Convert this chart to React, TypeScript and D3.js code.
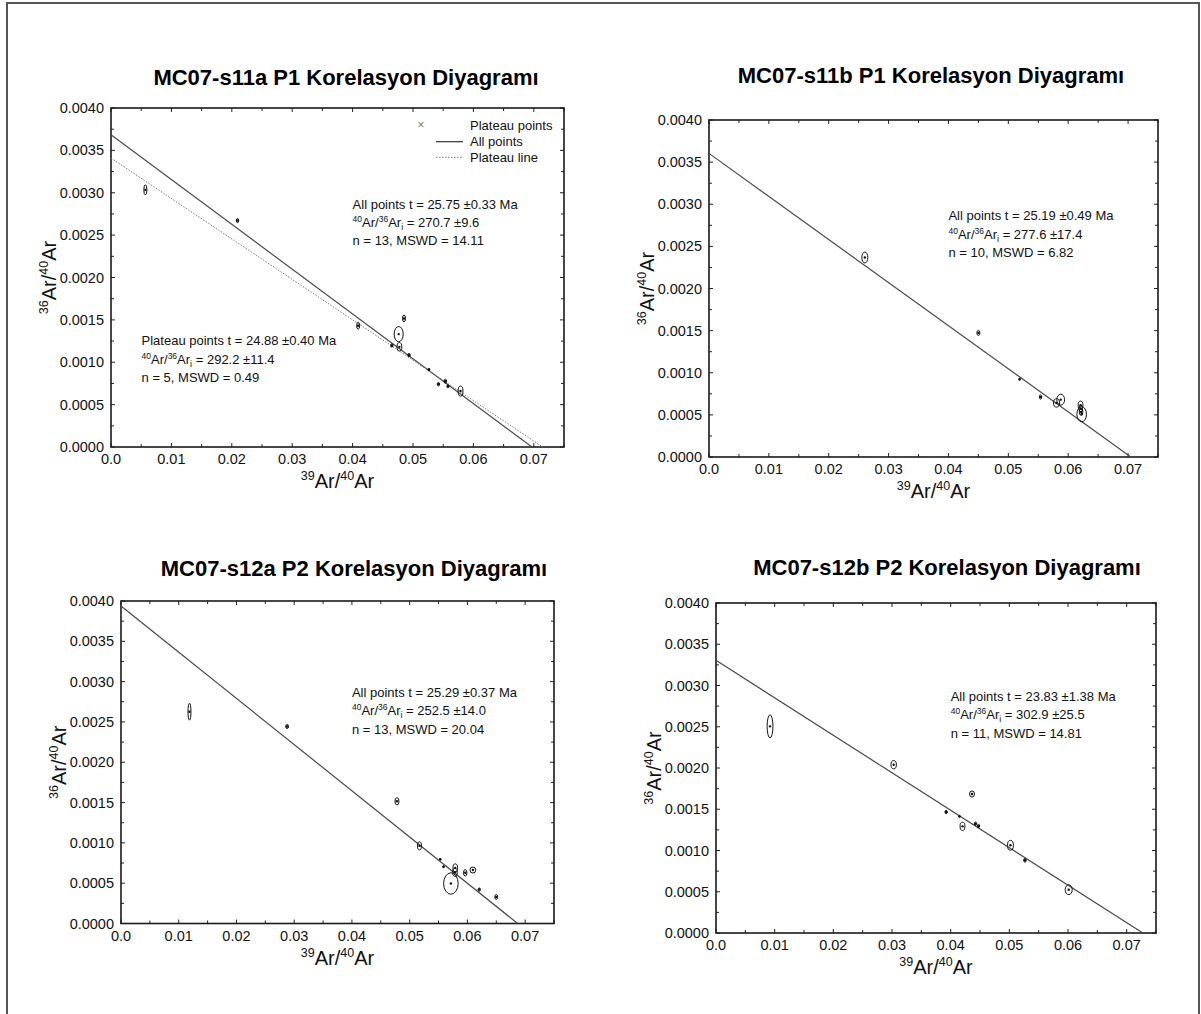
import React from "react";
import * as d3 from "d3";

const W = 1201;
const H = 1014;
const FONT = "'Liberation Sans', Arial, Helvetica, sans-serif";

// axis ticks, same for every panel
const xTicks = [0, 0.01, 0.02, 0.03, 0.04, 0.05, 0.06, 0.07];
const xTickLabels = ["0.0", "0.01", "0.02", "0.03", "0.04", "0.05", "0.06", "0.07"];
const yTicks = [0, 0.0005, 0.001, 0.0015, 0.002, 0.0025, 0.003, 0.0035, 0.004];
const yTickLabels = ["0.0000", "0.0005", "0.0010", "0.0015", "0.0020", "0.0025", "0.0030", "0.0035", "0.0040"];

const titles = [
  "MC07-s11a P1 Korelasyon Diyagramı",
  "MC07-s11b P1 Korelasyon Diyagramı",
  "MC07-s12a P2 Korelasyon Diyagramı",
  "MC07-s12b P2 Korelasyon Diyagramı",
];

// 39Ar/40Ar, 36Ar/40Ar and the 1-sigma half widths of the error ellipses
const s11aX = [0.00569, 0.02094, 0.04092, 0.04851, 0.04763, 0.04649, 0.04775, 0.04934, 0.05263, 0.05421, 0.05535, 0.05579, 0.05787];
const s11aY = [0.003034, 0.002672, 0.001431, 0.001517, 0.001332, 0.001198, 0.001182, 0.001084, 0.000914, 0.000741, 0.000776, 0.000717, 0.00066];
const s11aSx = [0.00025, 0.0002, 0.00025, 0.00025, 0.00075, 0.0002, 0.0004, 0.0002, 0.00015, 0.0002, 0.0002, 0.00015, 0.0004];
const s11aSy = [0.00006, 0.000025, 0.00004, 0.00004, 0.00009, 0.00002, 0.00005, 0.00002, 0.000015, 0.00002, 0.000025, 0.00002, 0.00006];

const s11bX = [0.02603, 0.045, 0.05188, 0.05538, 0.05805, 0.05875, 0.06206, 0.0621, 0.06215, 0.06225];
const s11bY = [0.002368, 0.001473, 0.000923, 0.000713, 0.000642, 0.000681, 0.000614, 0.000574, 0.000535, 0.000507];
const s11bSx = [0.0005, 0.00025, 0.00012, 0.0002, 0.0005, 0.00065, 0.0004, 0.0003, 0.0003, 0.0008];
const s11bSy = [0.000065, 0.00003, 0.000012, 0.000025, 0.00005, 0.000065, 0.00005, 0.00004, 0.00004, 0.00009];

const s12aX = [0.01186, 0.02877, 0.0478, 0.0517, 0.05529, 0.05586, 0.05714, 0.05785, 0.0579, 0.05962, 0.06095, 0.06205, 0.065];
const s12aY = [0.002627, 0.002443, 0.001516, 0.000963, 0.000796, 0.000704, 0.000496, 0.000635, 0.00069, 0.000629, 0.000663, 0.000421, 0.000329];
const s12aSx = [0.00026, 0.00025, 0.00035, 0.00035, 0.00012, 0.00012, 0.00126, 0.0004, 0.0004, 0.0003, 0.0005, 0.0002, 0.00025];
const s12aSy = [0.000105, 0.000025, 0.000045, 0.00005, 0.000012, 0.000012, 0.000133, 0.00005, 0.00005, 0.00004, 0.000037, 0.00002, 0.00003];

const s12bX = [0.00921, 0.03029, 0.03923, 0.0415, 0.04202, 0.04364, 0.04423, 0.04475, 0.05019, 0.05266, 0.06012];
const s12bY = [0.002505, 0.00204, 0.001467, 0.001414, 0.001293, 0.001685, 0.001325, 0.001297, 0.001063, 0.000881, 0.000525];
const s12bSx = [0.0005, 0.00046, 0.0002, 0.00012, 0.00042, 0.00042, 0.0002, 0.0002, 0.0005, 0.00022, 0.0006];
const s12bSy = [0.00014, 0.00005, 0.00002, 0.000012, 0.00005, 0.000037, 0.00002, 0.00002, 0.00006, 0.000022, 0.00006];

// isochron fits: 36Ar/40Ar at x = 0 and 39Ar/40Ar at y = 0
const fitY0 = [0.003684, 0.003604, 0.003939, 0.003305];
const fitX0 = [0.0697, 0.07046, 0.0687, 0.07276];
const plateauY0 = 0.003409;
const plateauX0 = 0.07147;

const ages = ["25.75 \u00b10.33", "25.19 \u00b10.49", "25.29 \u00b10.37", "23.83 \u00b11.38"];
const initialRatios = ["270.7 \u00b19.6", "277.6 \u00b117.4", "252.5 \u00b114.0", "302.9 \u00b125.5"];
const nPoints = [13, 10, 13, 11];
const mswd = ["14.11", "6.82", "20.04", "14.81"];
const plateauAge = "24.88 \u00b10.40";
const plateauRatio = "292.2 \u00b111.4";
const plateauN = 5;
const plateauMswd = "0.49";

// where each panel sits on the page
const layout = [
  { left: 111, right: 564, top: 108, bottom: 447, titleX: 346, titleY: 85 },
  { left: 709, right: 1158, top: 120, bottom: 457, titleX: 931, titleY: 83 },
  { left: 121, right: 554, top: 601, bottom: 923.5, titleX: 354, titleY: 576 },
  { left: 716, right: 1156, top: 603, bottom: 933, titleX: 947, titleY: 575 },
];

const series = [
  { x: s11aX, y: s11aY, sx: s11aSx, sy: s11aSy },
  { x: s11bX, y: s11bY, sx: s11bSx, sy: s11bSy },
  { x: s12aX, y: s12aY, sx: s12aSx, sy: s12aSy },
  { x: s12bX, y: s12bY, sx: s12bSx, sy: s12bSy },
];

const LINE_H = 18.3;

const StatBlock = ({ x, y, label, age, ratio, n, m }) => (
  <g fontSize={13} fill="#111">
    <text x={x} y={y}>{`${label} t = ${age} Ma`}</text>
    <text x={x} y={y + LINE_H}>
      <tspan fontSize={8.5} dy={-5}>40</tspan>
      <tspan dy={5}>Ar/</tspan>
      <tspan fontSize={8.5} dy={-5}>36</tspan>
      <tspan dy={5}>Ar</tspan>
      <tspan fontSize={9} dy={3}>i</tspan>
      <tspan dy={-3}>{` = ${ratio}`}</tspan>
    </text>
    <text x={x} y={y + 2 * LINE_H}>{`n = ${n}, MSWD = ${m}`}</text>
  </g>
);

const Panel = ({ i }) => {
  const L = layout[i];
  const d = series[i];
  const x = d3.scaleLinear().domain([0, 0.075]).range([L.left, L.right]);
  const y = d3.scaleLinear().domain([0, 0.004]).range([L.bottom, L.top]);
  const minorX = d3.range(0, 0.0751, 0.005);
  const minorY = d3.range(0, 0.00401, 0.00025);
  const cx = (L.left + L.right) / 2;
  const cy = (L.top + L.bottom) / 2;

  return (
    <g>
      <text x={L.titleX} y={L.titleY} textAnchor="middle" fontSize={22} fontWeight="bold" fill="#000">
        {titles[i]}
      </text>

      {/* inward ticks on all four sides */}
      {minorX.map((v, k) => (
        <g key={"tx" + k} stroke="#222" strokeWidth={1}>
          <line x1={x(v)} x2={x(v)} y1={L.bottom} y2={L.bottom - (k % 2 ? 3 : 4)} />
          <line x1={x(v)} x2={x(v)} y1={L.top} y2={L.top + (k % 2 ? 3 : 4)} />
        </g>
      ))}
      {minorY.map((v, k) => (
        <g key={"ty" + k} stroke="#222" strokeWidth={1}>
          <line x1={L.left} x2={L.left + (k % 2 ? 3 : 4)} y1={y(v)} y2={y(v)} />
          <line x1={L.right} x2={L.right - (k % 2 ? 3 : 4)} y1={y(v)} y2={y(v)} />
        </g>
      ))}

      <rect x={L.left} y={L.top} width={L.right - L.left} height={L.bottom - L.top}
        fill="none" stroke="#1a1a1a" strokeWidth={1.6} />

      {xTicks.map((v, k) => (
        <text key={"xl" + k} x={x(v)} y={L.bottom + 17} textAnchor="middle" fontSize={14.5} fill="#111">
          {xTickLabels[k]}
        </text>
      ))}
      {yTicks.map((v, k) => (
        <text key={"yl" + k} x={L.left - 7} y={y(v)} dy="0.35em" textAnchor="end" fontSize={14.5} fill="#111">
          {yTickLabels[k]}
        </text>
      ))}

      <text x={cx} y={L.bottom + 41} textAnchor="middle" fontSize={20} fill="#111">
        <tspan fontSize={12.5} dy={-8}>39</tspan>
        <tspan dy={8}>Ar/</tspan>
        <tspan fontSize={12.5} dy={-8}>40</tspan>
        <tspan dy={8}>Ar</tspan>
      </text>
      <text transform={`translate(${L.left - 55},${cy}) rotate(-90)`} textAnchor="middle" fontSize={20} fill="#111">
        <tspan fontSize={12.5} dy={-8}>36</tspan>
        <tspan dy={8}>Ar/</tspan>
        <tspan fontSize={12.5} dy={-8}>40</tspan>
        <tspan dy={8}>Ar</tspan>
      </text>

      {/* fit lines */}
      <line x1={x(0)} y1={y(fitY0[i])} x2={x(fitX0[i])} y2={y(0)} stroke="#4a4a4a" strokeWidth={1.2} />
      {i === 0 && (
        <line x1={x(0)} y1={y(plateauY0)} x2={x(plateauX0)} y2={y(0)}
          stroke="#777" strokeWidth={1} strokeDasharray="1.5,1.5" />
      )}

      {/* error ellipses */}
      {d.x.map((v, k) => {
        const rx = Math.abs(x(v + d.sx[k]) - x(v));
        const ry = Math.abs(y(d.y[k] + d.sy[k]) - y(d.y[k]));
        return (
          <g key={"p" + k}>
            <ellipse cx={x(v)} cy={y(d.y[k])} rx={rx} ry={ry} fill="none" stroke="#111" strokeWidth={1} />
            <circle cx={x(v)} cy={y(d.y[k])} r={1.2} fill="#111" />
          </g>
        );
      })}

      <StatBlock x={x(0.04)} y={y(0.00281)} label="All points" age={ages[i]}
        ratio={initialRatios[i]} n={nPoints[i]} m={mswd[i]} />

      {i === 0 && (
        <g>
          <StatBlock x={x(0.00506)} y={y(0.0012)} label="Plateau points" age={plateauAge}
            ratio={plateauRatio} n={plateauN} m={plateauMswd} />
          <g fontSize={13} fill="#111">
            <text x={421} y={125} dy="0.35em" textAnchor="middle" fontSize={12} fill="#777">×</text>
            <text x={470} y={125} dy="0.35em">Plateau points</text>
            <line x1={436} x2={463} y1={141.7} y2={141.7} stroke="#333" strokeWidth={1.2} />
            <text x={470} y={141.7} dy="0.35em">All points</text>
            <line x1={436} x2={463} y1={157.3} y2={157.3} stroke="#777" strokeWidth={1} strokeDasharray="1.5,1.5" />
            <text x={470} y={157.3} dy="0.35em">Plateau line</text>
          </g>
        </g>
      )}
    </g>
  );
}

export default function App() {
  return (
    <svg width={W} height={H} fontFamily={FONT}
      style={{ position: "absolute", left: 0, top: 0, background: "#fff" }}>
      <rect width={W} height={H} fill="#fff" />
      <path d={`M7,${H + 5} V3 H1199 V${H + 5}`} fill="none" stroke="#555" strokeWidth={2} />
      {layout.map((_, i) => <Panel key={i} i={i} />)}
    </svg>
  );
}
